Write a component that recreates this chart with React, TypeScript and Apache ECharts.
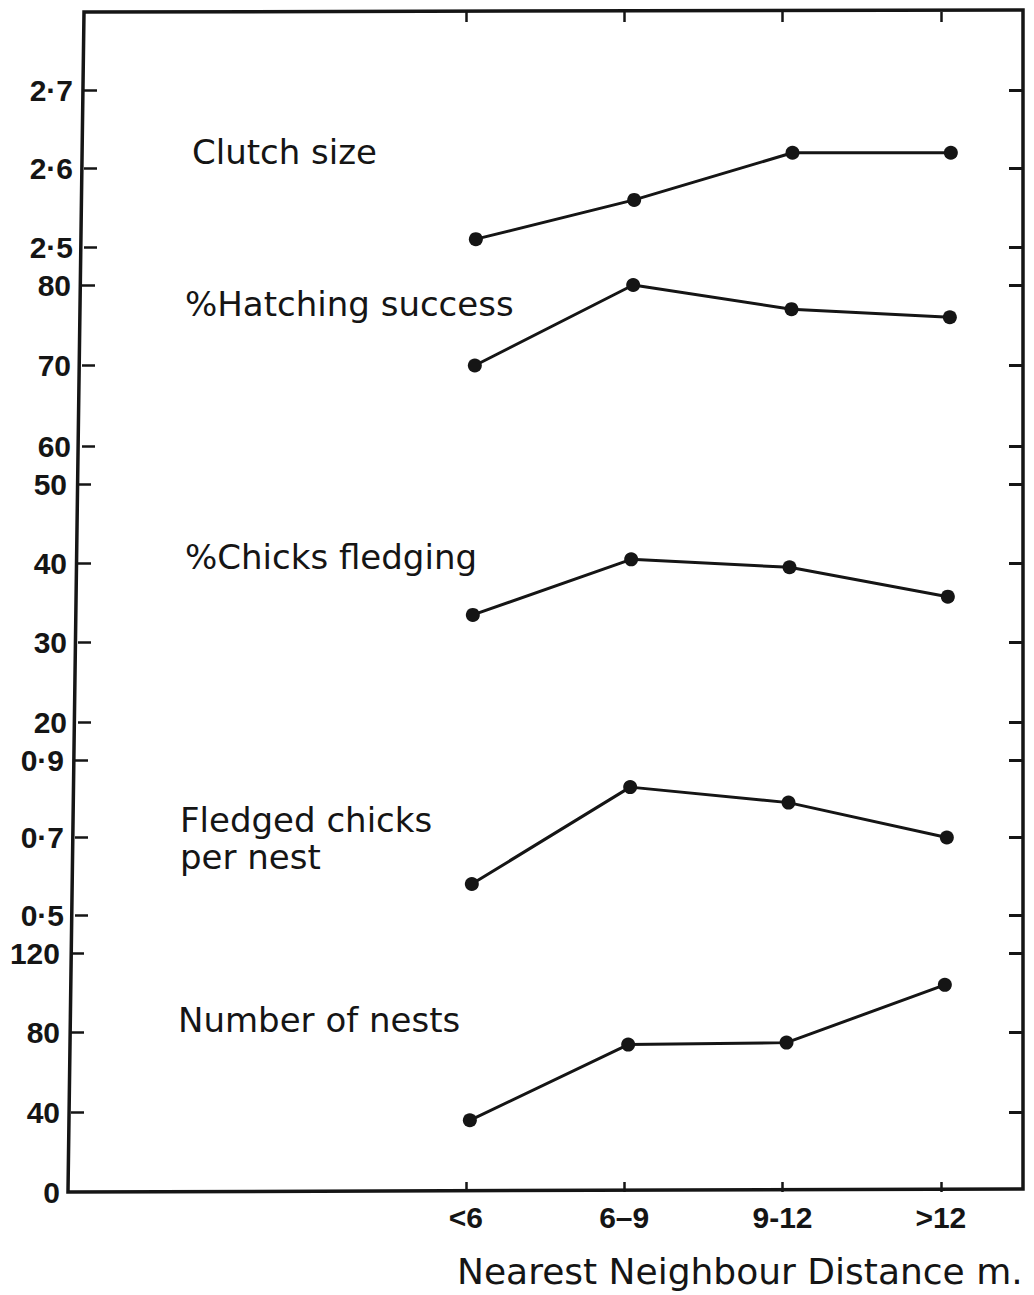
import React, { useEffect, useRef } from "react";
import * as echarts from "echarts";

// ---------- data ----------
const categories = ["<6", "6–9", "9-12", ">12"];
const clutchSize = [2.51, 2.56, 2.62, 2.62];
const hatchingSuccess = [70, 80, 77, 76];
const chicksFledging = [33.5, 40.5, 39.5, 35.8];
const fledgedPerNest = [0.58, 0.83, 0.79, 0.7];
const numberOfNests = [36, 74, 75, 104];

const clutchTicks = [2.5, 2.6, 2.7];
const hatchingTicks = [60, 70, 80];
const fledgingTicks = [20, 30, 40, 50];
const perNestTicks = [0.5, 0.7, 0.9];
const nestTicks = [0, 40, 80, 120];

const seriesLabels = [
  "Clutch size",
  "%Hatching success",
  "%Chicks fledging",
  "Fledged chicks\nper nest",
  "Number of nests",
];
const xTitle = "Nearest Neighbour Distance m.";

// ---------- layout / style ----------
const INK = "#151515";
const TICK_FONT = "Liberation Sans";
const TEXT_FONT = "DejaVu Sans";
const PLOT_LEFT = 70;
const PLOT_W = 950;
const RIGHT_X = 1023;

const dot = (d: number) => (v: number) => v.toFixed(d).replace(".", "·");

const bands = [
  { top: 11.5, height: 235.5, min: 2.5, max: 2.8, dx: 10, axisX: 84, values: clutchSize, ticks: clutchTicks, fmt: dot(1), label: seriesLabels[0], lx: 192, ly: 151.5 },
  { top: 244.75, height: 241.5, min: 55, max: 85, dx: 9, axisX: 82, values: hatchingSuccess, ticks: hatchingTicks, fmt: dot(0), label: seriesLabels[1], lx: 185, ly: 304 },
  { top: 484, height: 238, min: 20, max: 50, dx: 7, axisX: 78, values: chicksFledging, ticks: fledgingTicks, fmt: dot(0), label: seriesLabels[2], lx: 185, ly: 557 },
  { top: 760, height: 155, min: 0.5, max: 0.9, dx: 6, axisX: 75, values: fledgedPerNest, ticks: perNestTicks, fmt: dot(1), label: seriesLabels[3], lx: 180, ly: 801 },
  { top: 953, height: 239, min: 0, max: 120, dx: 4, axisX: 71, values: numberOfNests, ticks: nestTicks, fmt: dot(0), label: seriesLabels[4], lx: 178, ly: 1020 },
];

function buildOption() {
  const grid: any[] = [];
  const xAxis: any[] = [];
  const yAxis: any[] = [];
  const series: any[] = [];
  const graphic: any[] = [];

  bands.forEach((b, i) => {
    const left = PLOT_LEFT + b.dx;
    grid.push({ left, width: PLOT_W, top: b.top, height: b.height });
    xAxis.push({ type: "value", gridIndex: i, min: -2.5, max: 3.5, show: false, axisLine: { onZero: false } });
    const tickVals = b.ticks.filter((t) => t !== 0);
    yAxis.push({
      type: "value",
      gridIndex: i,
      min: b.min,
      max: b.max,
      position: "left",
      offset: left - b.axisX,
      axisLine: { show: false, onZero: false },
      splitLine: { show: false },
      axisTick: { show: true, inside: true, length: 13, customValues: tickVals, lineStyle: { color: INK, width: 2.5 } },
      axisLabel: {
        show: true,
        customValues: b.ticks,
        formatter: (v: number) => b.fmt(v),
        margin: 11,
        fontFamily: TICK_FONT,
        fontWeight: "bold",
        fontSize: 30,
        color: INK,
      },
    });
    yAxis.push({
      type: "value",
      gridIndex: i,
      min: b.min,
      max: b.max,
      position: "right",
      offset: RIGHT_X - (left + PLOT_W),
      axisLine: { show: false, onZero: false },
      splitLine: { show: false },
      axisTick: { show: true, inside: true, length: 14, customValues: tickVals, lineStyle: { color: INK, width: 3 } },
      axisLabel: { show: false },
    });
    series.push({
      type: "line",
      name: b.label.replace("\n", " "),
      xAxisIndex: i,
      yAxisIndex: 2 * i,
      data: b.values.map((v, k) => [k, v]),
      symbol: "circle",
      symbolSize: 14,
      lineStyle: { color: INK, width: 3 },
      itemStyle: { color: INK },
      z: 5,
    });
    const multi = b.label.includes("\n");
    graphic.push({
      type: "text",
      x: b.lx,
      y: b.ly,
      style: {
        text: b.label,
        fontFamily: TEXT_FONT,
        fontSize: 34,
        lineHeight: 37,
        fill: INK,
        verticalAlign: multi ? "top" : "middle",
        align: "left",
      },
    });
  });

  // frame grid carrying the category axis
  const fi = bands.length;
  grid.push({ left: PLOT_LEFT, width: PLOT_W, top: 12, height: 1180 });
  const catIdx = categories.map((_, k) => k);
  xAxis.push({
    type: "value",
    gridIndex: fi,
    position: "bottom",
    min: -2.5,
    max: 3.5,
    axisLine: { show: false, onZero: false },
    splitLine: { show: false },
    axisTick: { show: true, inside: true, length: 10, customValues: catIdx, lineStyle: { color: INK, width: 2.5 } },
    axisLabel: {
      show: true,
      customValues: catIdx,
      formatter: (v: number) => categories[Math.round(v)] ?? "",
      margin: 10,
      fontFamily: TICK_FONT,
      fontWeight: "bold",
      fontSize: 30,
      color: INK,
    },
  });
  xAxis.push({
    type: "value",
    gridIndex: fi,
    position: "top",
    min: -2.5,
    max: 3.5,
    axisLine: { show: false, onZero: false },
    splitLine: { show: false },
    axisTick: { show: true, inside: true, length: 10, customValues: catIdx, lineStyle: { color: INK, width: 2.5 } },
    axisLabel: { show: false },
  });
  yAxis.push({ type: "value", gridIndex: fi, min: 0, max: 1, show: false, axisLine: { onZero: false } });

  graphic.push({
    type: "polygon",
    shape: { points: [[84, 12], [1023, 10], [1023, 1189], [68, 1192]] },
    style: { fill: "none", stroke: INK, lineWidth: 3.5 },
    z: 10,
  });
  graphic.push({
    type: "text",
    x: 457,
    y: 1271,
    style: { text: xTitle, fontFamily: TEXT_FONT, fontSize: 36, fill: INK, verticalAlign: "middle", align: "left" },
  });

  return {
    animation: false,
    backgroundColor: "#ffffff",
    grid,
    xAxis,
    yAxis,
    series,
    graphic,
  };
}

export default function App() {
  const ref = useRef<HTMLDivElement>(null);
  useEffect(() => {
    if (!ref.current) return;
    const chart = echarts.init(ref.current, undefined, { renderer: "svg" });
    chart.setOption(buildOption() as any);
    return () => chart.dispose();
  }, []);
  return (
    <div
      ref={ref}
      style={{ position: "absolute", left: 0, top: 0, width: 1034, height: 1295, background: "#fff" }}
    />
  );
}
